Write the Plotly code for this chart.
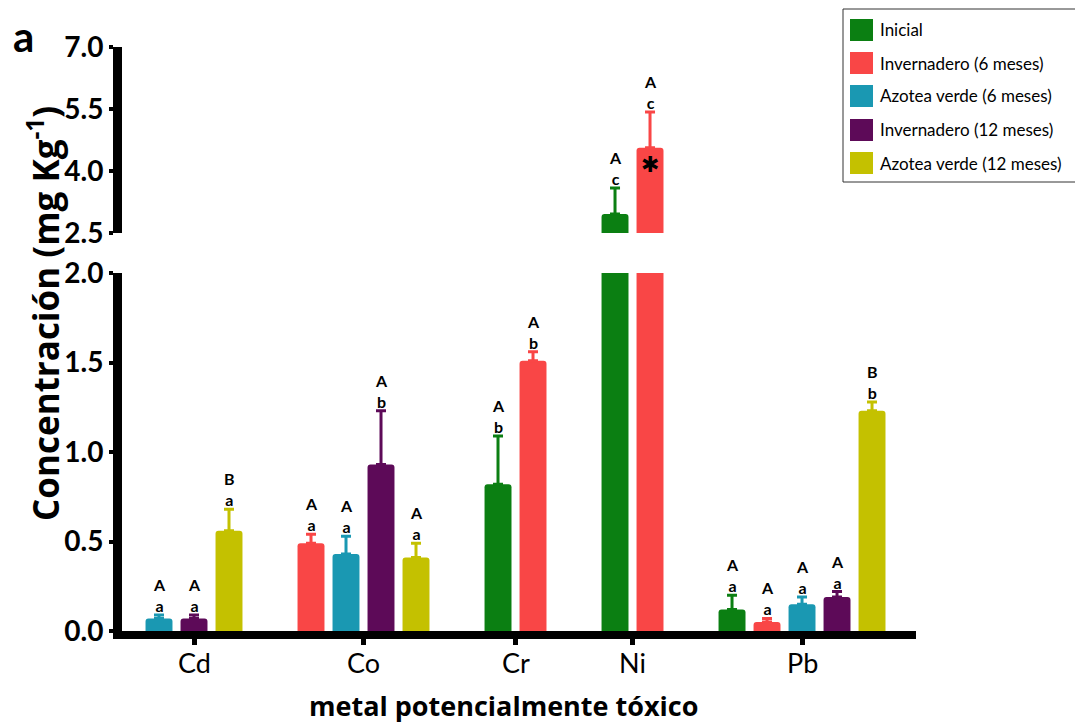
import plotly.graph_objects as go

categories = ["Cd", "Co", "Cr", "Ni", "Pb"]
series_names = ["Inicial", "Invernadero (6 meses)", "Azotea verde (6 meses)",
                "Invernadero (12 meses)", "Azotea verde (12 meses)"]
colors = ["#0b7f12", "#f94646", "#1a98b2", "#5d0a58", "#c4c100"]

inicial = [None, None, 0.82, 2.96, 0.12]
inv6 = [None, 0.49, 1.51, 4.56, 0.05]
az6 = [0.07, 0.43, None, None, 0.15]
inv12 = [0.07, 0.93, None, None, 0.19]
az12 = [0.56, 0.41, None, None, 1.23]

err_inicial = [None, None, 0.27, 0.63, 0.08]
err_inv6 = [None, 0.05, 0.05, 0.87, 0.02]
err_az6 = [0.02, 0.10, None, None, 0.04]
err_inv12 = [0.02, 0.30, None, None, 0.03]
err_az12 = [0.12, 0.08, None, None, 0.05]

up_inicial = [None, None, "A", "A", "A"]
up_inv6 = [None, "A", "A", "A", "A"]
up_az6 = ["A", "A", None, None, "A"]
up_inv12 = ["A", "A", None, None, "A"]
up_az12 = ["B", "A", None, None, "B"]

lo_inicial = [None, None, "b", "c", "a"]
lo_inv6 = [None, "a", "b", "c", "a"]
lo_az6 = ["a", "a", None, None, "a"]
lo_inv12 = ["a", "b", None, None, "a"]
lo_az12 = ["a", "a", None, None, "b"]

values = [inicial, inv6, az6, inv12, az12]
errors = [err_inicial, err_inv6, err_az6, err_inv12, err_az12]
uppers = [up_inicial, up_inv6, up_az6, up_inv12, up_az12]
lowers = [lo_inicial, lo_inv6, lo_az6, lo_inv12, lo_az12]

lower_ticks = [0.0, 0.5, 1.0, 1.5, 2.0]
upper_ticks = [2.5, 4.0, 5.5, 7.0]
star_category = "Ni"
star_series = 1
star_value = 4.15

# layout geometry in screenshot pixels (page body has an 8px margin)
OFF = 8
SW, SH = 1083, 726
FW, FH = SW - OFF, SH - OFF
L, R, T, B = 122, 916, 47, 631
PW, PH = R - L, B - T
GAP = 1.343  # extra space between groups, in bar-pitch units
BAR_W = 0.77


def px2x(px):
    return (px - L) / PW


def py2y(py):
    return (B - py) / PH


# positions for packed bars
positions = [[None] * len(categories) for _ in series_names]
tick_pos = []
cursor = 0.0
for ci, cat in enumerate(categories):
    ps = []
    for si in range(len(series_names)):
        if values[si][ci] is not None:
            positions[si][ci] = cursor
            ps.append(cursor)
            cursor += 1
    tick_pos.append(sum(ps) / len(ps))
    cursor += GAP

x_left = (L - 159) / 35.0
x_right = (R - 159) / 35.0

fig = go.Figure()
for yax in ["y", "y2"]:
    for si, name in enumerate(series_names):
        xs, ys, es = [], [], []
        for ci in range(len(categories)):
            if values[si][ci] is not None:
                xs.append(positions[si][ci])
                ys.append(values[si][ci])
                es.append(errors[si][ci])
        fig.add_trace(go.Bar(
            x=xs, y=ys, name=name, width=BAR_W, yaxis=yax, xaxis="x",
            marker=dict(color=colors[si], line=dict(width=0), cornerradius=3),
            error_y=dict(type="data", array=es, arrayminus=[0] * len(es),
                         symmetric=False, color=colors[si], thickness=3, width=5),
            showlegend=False, hoverinfo="skip"))

letter_font = dict(family="Lato", size=16, color="black", weight="bold")
annotations = []
for si in range(len(series_names)):
    for ci in range(len(categories)):
        v = values[si][ci]
        if v is None:
            continue
        top = v + errors[si][ci]
        yref = "y2" if top > 2.0 else "y"
        annotations.append(dict(
            x=positions[si][ci], y=top, xref="x", yref=yref,
            text=f"{uppers[si][ci]}<br>{lowers[si][ci]}", showarrow=False,
            yanchor="bottom", xanchor="center", yshift=-2, font=letter_font))

ci_star = categories.index(star_category)
annotations.append(dict(
    x=positions[star_series][ci_star], y=star_value, xref="x", yref="y2",
    text="✱", showarrow=False, font=dict(family="DejaVu Sans", size=22, color="black")))

# category labels
for ci, cat in enumerate(categories):
    annotations.append(dict(x=tick_pos[ci], y=py2y(662), xref="x", yref="paper", text=cat,
                            showarrow=False, xanchor="center", yanchor="middle",
                            font=dict(family="Lato", size=27, color="black")))

# panel label
annotations.append(dict(x=px2x(23), y=py2y(9), xref="paper", yref="paper", text="<b>a</b>",
                        showarrow=False, xanchor="center", yanchor="top",
                        font=dict(family="Lato", size=42, color="black")))
# y title
annotations.append(dict(x=px2x(43), y=py2y(314), xref="paper", yref="paper",
                        text="<b>Concentración (mg Kg<sup>-1</sup>)</b>", textangle=-90,
                        showarrow=False, xanchor="center", yanchor="middle",
                        font=dict(family="Open Sans", size=35, color="black")))
# x title
annotations.append(dict(x=px2x(503), y=py2y(705), xref="paper", yref="paper",
                        text="<b>metal potencialmente tóxico</b>",
                        showarrow=False, xanchor="center", yanchor="middle",
                        font=dict(family="Open Sans", size=27, color="black")))

# manual legend
shapes = []
box = (843, 9, 1076, 182)
shapes.append(dict(type="rect", xref="paper", yref="paper",
                   x0=px2x(box[0]), x1=px2x(box[2]), y0=py2y(box[3]), y1=py2y(box[1]),
                   line=dict(color="#333333", width=1), fillcolor="white", layer="above"))
row_y = [30, 63, 96, 130, 163]
for si, name in enumerate(series_names):
    cy = row_y[si]
    shapes.append(dict(type="rect", xref="paper", yref="paper",
                       x0=px2x(850), x1=px2x(873), y0=py2y(cy + 11), y1=py2y(cy - 11),
                       line=dict(width=0), fillcolor=colors[si], layer="above"))
    annotations.append(dict(x=px2x(878), y=py2y(cy), xref="paper", yref="paper",
                            text=name, showarrow=False, xanchor="left", yanchor="middle",
                            font=dict(family="Lato", size=17, color="black")))

axis_font = dict(family="Lato", size=28, color="black", weight="bold")
fig.update_layout(
    width=FW, height=FH,
    margin=dict(l=L - OFF, r=SW - R, t=T - OFF, b=SH - B, pad=0),
    paper_bgcolor="white", plot_bgcolor="white",
    barmode="overlay",
    showlegend=False,
    xaxis=dict(range=[x_left, x_right], tickvals=tick_pos, showticklabels=False,
               showline=True, linewidth=8, linecolor="black", ticks="outside",
               ticklen=6, tickwidth=5, tickcolor="black", showgrid=False, zeroline=False,
               anchor="y"),
    yaxis=dict(domain=[0, py2y(273)], range=[0, 2.0], tickvals=lower_ticks,
               ticktext=[f"{t:.1f}" for t in lower_ticks],
               showline=True, linewidth=9, linecolor="black", ticks="outside",
               ticklen=4, tickwidth=4, tickcolor="black", showgrid=False, zeroline=False,
               tickfont=axis_font, anchor="x"),
    yaxis2=dict(domain=[py2y(233), 1.0], range=[2.5, 7.0], tickvals=upper_ticks,
                ticktext=[f"{t:.1f}" for t in upper_ticks],
                showline=True, linewidth=9, linecolor="black", ticks="outside",
                ticklen=4, tickwidth=4, tickcolor="black", showgrid=False, zeroline=False,
                tickfont=axis_font, anchor="x"),
    annotations=annotations,
    shapes=shapes,
)

fig.write_html("out.html")
